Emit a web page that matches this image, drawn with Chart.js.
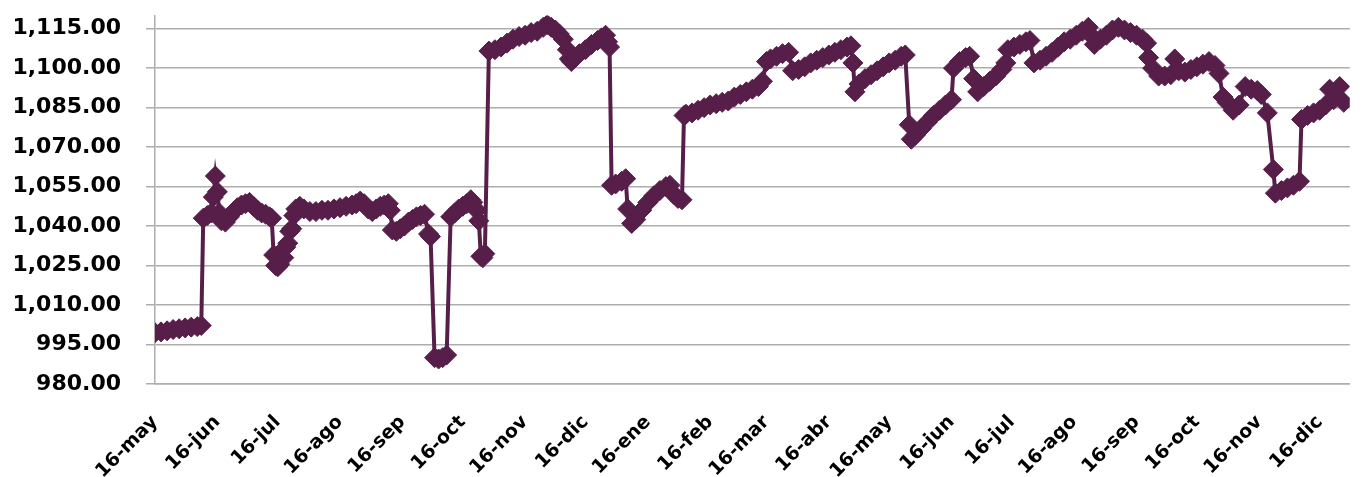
<!DOCTYPE html>
<html>
<head>
<meta charset="utf-8">
<script src="https://cdn.jsdelivr.net/npm/chart.js@4.4.1/dist/chart.umd.min.js"></script>
<style>
  body { margin: 0; background: #fff; }
  #wrap { width: 1363px; height: 477px; }
</style>
</head>
<body>
<div id="wrap"><canvas id="serie"></canvas></div>
<script>
// dias contados desde el 16-may del primer año
var dias = [
  0, 3, 6, 9, 12, 15, 18, 21, 23, 24, 26, 28, 29, 30, 31, 32, 33, 35, 37, 39,
  41, 43, 45, 47, 49, 51, 53, 55, 57, 58, 59, 60, 61, 62, 64, 65, 66, 67, 68, 69,
  70, 72, 74, 77, 80, 83, 86, 89, 92, 95, 98, 100, 102, 104, 106, 108, 110, 112, 114, 116,
  117, 118, 120, 122, 124, 126, 128, 130, 132, 134, 136, 137, 139, 141, 143, 145, 147, 149, 151, 153,
  155, 157, 158, 160, 161, 162, 163, 164, 166, 169, 172, 175, 178, 181, 184, 187, 190, 193, 195, 197,
  199, 201, 203, 205, 206, 207, 209, 211, 214, 217, 220, 222, 224, 225, 226, 227, 229, 232, 234, 235,
  237, 239, 242, 245, 248, 251, 254, 256, 258, 260, 262, 263, 264, 267, 270, 273, 276, 279, 282, 285,
  288, 291, 294, 297, 300, 302, 304, 306, 309, 312, 315, 317, 320, 323, 326, 329, 332, 335, 338, 341,
  344, 346, 347, 348, 350, 353, 356, 359, 362, 365, 368, 371, 373, 375, 376, 378, 381, 384, 387, 390,
  393, 396, 397, 400, 403, 405, 407, 409, 412, 415, 418, 421, 423, 424, 427, 430, 433, 435, 437, 440,
  443, 446, 449, 452, 455, 458, 461, 464, 466, 467, 470, 473, 476, 479, 482, 485, 488, 491, 493, 494,
  496, 499, 502, 505, 507, 509, 512, 515, 518, 521, 524, 527, 529, 531, 533, 536, 539, 542, 545, 548,
  550, 553, 556, 557, 560, 563, 566, 569, 570, 573, 576, 579, 582, 584, 586, 589, 591
];
var valores = [
  999.5, 999.8, 1000.2, 1000.7, 1001.0, 1001.3, 1001.6, 1001.8, 1002.2, 1043, 1044, 1045, 1051, 1059, 1053, 1045, 1042, 1041.5, 1043.5, 1045.5,
  1047, 1048, 1048.5, 1049, 1047.5, 1046, 1045, 1044.5, 1043.5, 1043, 1029, 1025, 1024.5, 1025.5, 1028, 1032, 1033.5, 1038, 1039, 1044,
  1046.5, 1047.5, 1046.5, 1045.5, 1045.5, 1046, 1046, 1046.5, 1047, 1047.5, 1048, 1048.5, 1049.5, 1048.5, 1046.5, 1045.5, 1046.5, 1047.5, 1048, 1048.5,
  1046, 1038.5, 1038, 1039, 1040, 1041.5, 1042.5, 1043.5, 1044, 1044.5, 1037, 1036, 990, 989.5, 990, 991, 1043.5, 1045, 1046.5, 1047.5,
  1048.5, 1050, 1049, 1046, 1042, 1028.5, 1028, 1029.5, 1106.5, 1107, 1108, 1109.5, 1111, 1112, 1112.5, 1113.5, 1114, 1115.5, 1116.5, 1115.5,
  1114.5, 1113, 1111, 1107, 1103.5, 1102.5, 1104, 1105.5, 1107, 1109, 1110.5, 1111.5, 1112.5, 1110, 1108, 1055.5, 1056, 1057, 1058, 1046.5,
  1041, 1042.5, 1046, 1049, 1051.5, 1053.5, 1055, 1055.5, 1052, 1050.5, 1050, 1082, 1082.5, 1083, 1084, 1085, 1086, 1086.5, 1087, 1087.5,
  1089, 1090, 1091, 1092, 1093, 1095, 1102.5, 1103.5, 1104.5, 1105.5, 1106, 1099, 1099.5, 1100.5, 1102, 1103, 1104, 1105, 1106, 1107,
  1108, 1108.5, 1102, 1091, 1094, 1096, 1097.5, 1099, 1100.5, 1102, 1103, 1104.5, 1105, 1078.5, 1073, 1074.5, 1077, 1079.5, 1082, 1084,
  1086, 1088, 1100, 1102.5, 1104, 1104.5, 1096, 1091, 1093, 1095, 1097, 1099.5, 1102, 1107, 1108, 1109, 1110, 1110.5, 1102, 1103,
  1104.5, 1106, 1108, 1110, 1111, 1112.5, 1114, 1115.5, 1112, 1109, 1111, 1112.5, 1114.5, 1115.5, 1114.5, 1113.5, 1112.5, 1111, 1109.5, 1104,
  1100, 1097, 1097, 1097.5, 1103.5, 1099, 1098.5, 1099.5, 1100.5, 1101.5, 1102.5, 1101, 1098, 1089, 1087, 1084, 1086, 1093, 1092, 1091.5,
  1090, 1083, 1061.5, 1052.5, 1053.5, 1054.5, 1055.5, 1057, 1080.5, 1082, 1083, 1084, 1086, 1092, 1088, 1093, 1087
];

// marcas del eje x (día 16 de cada mes)
var diasMes = [0, 31, 61, 92, 123, 153, 184, 214, 245, 276, 304, 335, 365, 396, 426, 457, 488, 518, 549, 579];
var etiquetasMes = ['16-may', '16-jun', '16-jul', '16-ago', '16-sep', '16-oct', '16-nov', '16-dic', '16-ene', '16-feb',
  '16-mar', '16-abr', '16-may', '16-jun', '16-jul', '16-ago', '16-sep', '16-oct', '16-nov', '16-dic'];
var marcasY = [980, 995, 1010, 1025, 1040, 1055, 1070, 1085, 1100, 1115];

var puntos = dias.map(function (d, i) { return { x: d, y: valores[i] }; });
var morado = '#581e4a';
var gris = '#adadad';

var ctx = document.getElementById('serie').getContext('2d');
var grafico = new Chart(ctx, {
  type: 'line',
  data: {
    datasets: [{
      data: puntos,
      borderColor: morado,
      backgroundColor: morado,
      borderWidth: 4,
      pointStyle: 'rectRot',
      pointRadius: 10,
      pointBorderWidth: 1,
      pointBackgroundColor: morado,
      pointBorderColor: morado,
      tension: 0
    }]
  },
  options: {
    responsive: true,
    maintainAspectRatio: false,
    animation: false,
    layout: { padding: { top: 15.5, right: 3, bottom: 0, left: 0 } },
    plugins: { legend: { display: false }, tooltip: { enabled: false } },
    scales: {
      x: {
        type: 'linear',
        min: 0,
        max: 594,
        grid: { display: false, drawTicks: false },
        border: { color: gris, width: 1.5 },
        afterBuildTicks: function (scale) {
          scale.ticks = diasMes.map(function (d) { return { value: d }; });
        },
        afterFit: function (scale) { scale.height = 93; },
        ticks: {
          autoSkip: false,
          minRotation: 45,
          maxRotation: 45,
          padding: 27,
          color: '#000',
          font: { family: 'DejaVu Sans', size: 19, weight: 'bold' },
          callback: function (v) { return etiquetasMes[diasMes.indexOf(v)]; }
        }
      },
      y: {
        min: 980,
        max: 1120,
        grid: { color: gris, lineWidth: 1.5, tickLength: 9 },
        border: { color: gris, width: 1.5 },
        afterBuildTicks: function (scale) {
          scale.ticks = marcasY.map(function (v) { return { value: v }; });
        },
        afterFit: function (scale) {
          scale.width = 155;
          scale.paddingTop = 0;
          scale.paddingBottom = 0;
        },
        ticks: {
          padding: 25,
          color: '#000',
          font: { family: 'DejaVu Sans', size: 22, weight: 'bold' },
          callback: function (v) {
            return v.toLocaleString('en-US', { minimumFractionDigits: 2, maximumFractionDigits: 2 });
          }
        }
      }
    }
  }
});
</script>
</body>
</html>
